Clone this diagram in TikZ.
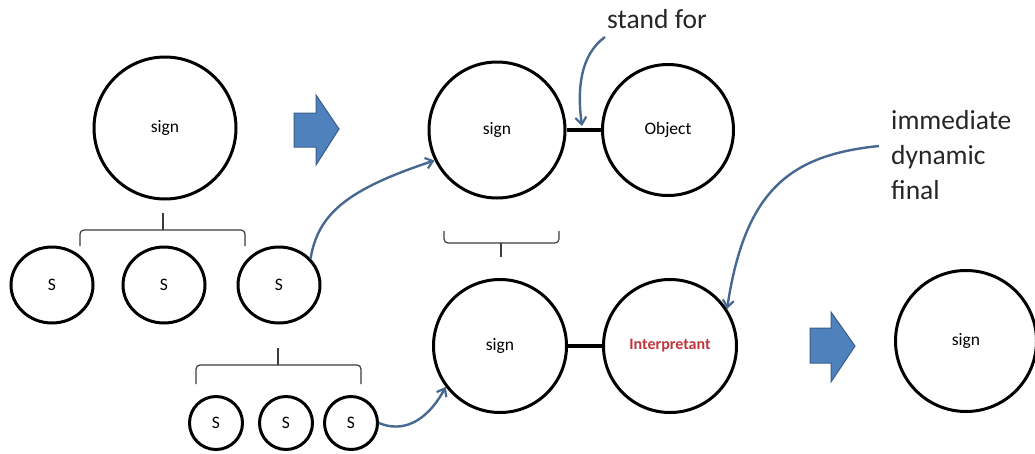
\documentclass[tikz,border=0pt]{standalone}
\usepackage{fontspec}
\setmainfont{Carlito}
\usetikzlibrary{shapes.geometric,arrows.meta,calc}
\definecolor{curvecol}{RGB}{70,104,145}
\definecolor{blockfill}{RGB}{79,129,189}
\definecolor{blockedge}{RGB}{56,93,138}
\definecolor{interpred}{RGB}{192,52,60}
\definecolor{bracecol}{RGB}{60,60,60}
\begin{document}
\begin{tikzpicture}[x=1pt,y=1pt,
  circ/.style={circle,draw=black,line width=3pt,inner sep=0pt,font=\fontsize{17.5}{19}\selectfont},
  smallcirc/.style={ellipse,draw=black,line width=3pt,inner sep=0pt,minimum width=82pt,minimum height=76pt,font=\fontsize{17.5}{19}\selectfont},
  tinycirc/.style={circle,draw=black,line width=3pt,inner sep=0pt,minimum size=53pt,font=\fontsize{17.5}{19}\selectfont},
  bigtext/.style={font=\fontsize{27.5}{35}\selectfont,inner sep=0pt,text=black!85},
  curvearrow/.style={draw=curvecol,line width=2.4pt,-{Straight Barb[length=7pt,width=11pt,line width=2.2pt]}},
  bracestyle/.style={draw=bracecol,line width=1.2pt,rounded corners=4pt},
  link/.style={draw=black,line width=3.2pt},
  blockarrow/.style={fill=blockfill,draw=blockedge,line width=1pt,line join=miter}
]
\useasboundingbox (0,0) rectangle (1035,-453);

% circles
\node[circ,minimum size=142pt] (sign1) at (165,-128) {sign};
\node[smallcirc] (s1) at (52,-285) {S};
\node[smallcirc] (s2) at (164,-285) {S};
\node[smallcirc] (s3) at (279,-285) {S};
\node[tinycirc] (t1) at (216,-423) {S};
\node[tinycirc] (t2) at (286,-423) {S};
\node[tinycirc] (t3) at (351,-423) {S};
\node[circ,minimum size=136pt] (sign2) at (497,-130) {sign};
\node[circ,minimum size=131pt] (obj) at (668,-130) {Object};
\node[circ,minimum size=133pt] (sign3) at (500,-346) {sign};
\node[circ,minimum size=133pt,font=\fontsize{16}{18}\selectfont\bfseries,text=interpred] (interp) at (670,-346) {Interpretant};
\node[circ,minimum size=141pt] (sign4) at (966,-341) {sign};

% links
\draw[link] (sign2.east) -- (obj.west);
\draw[link] (sign3.east) -- (interp.west);
\coordinate (sfmid) at ($(sign2.east)!0.45!(obj.west)+(0,4)$);

% texts
\node[bigtext,anchor=base west] (standfor) at (607,-28) {stand for};
\node[bigtext,anchor=north west,align=left] (idf) at (891,-110) {immediate\\dynamic\\final};

% braces
\draw[bracestyle] (80,-246) -- (80,-230) -- (245,-230) -- (245,-246);
\draw[bracestyle] (163,-230) -- (163,-213);
\draw[bracestyle] (196,-384) -- (196,-365) -- (361,-365) -- (361,-384);
\draw[bracestyle] (278,-365) -- (278,-348);
\draw[bracestyle] (444,-231) -- (444,-243) -- (559,-243) -- (559,-231);
\draw[bracestyle] (501,-243) -- (501,-257);

% block arrows
\path[blockarrow] (294,-113) -- (316,-113) -- (316,-95) -- (339,-129) -- (316,-165) -- (316,-147) -- (294,-147) -- cycle;
\path[blockarrow] (810,-328) -- (831,-328) -- (831,-312) -- (855,-346) -- (831,-382) -- (831,-363) -- (810,-363) -- cycle;

% curved arrows
\draw[curvearrow] (s3.40) .. controls (318,-215) and (345,-190) .. (sign2.206);
\draw[curvearrow] (t3.east) .. controls (400,-432) and (425,-425) .. (sign3.217);
\draw[curvearrow] ($(standfor.base west)+(-2,-9)$) .. controls (580,-55) and (577,-90) .. (sfmid);
\draw[curvearrow] ($(idf.north west)+(-12,-36)$) .. controls (790,-155) and (745,-190) .. (interp.33);
\end{tikzpicture}
\end{document}
